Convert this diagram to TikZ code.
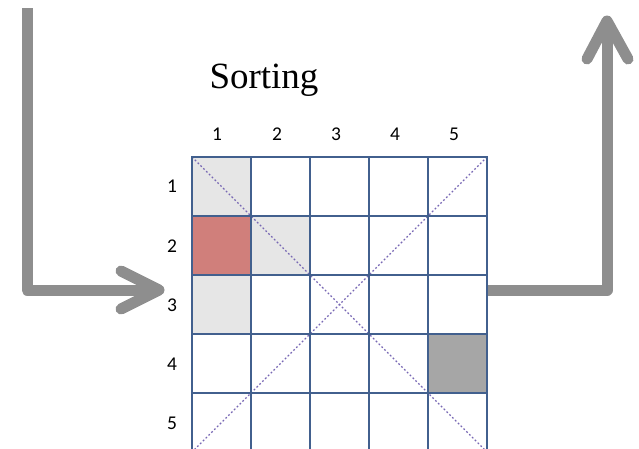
\documentclass[tikz,border=0pt]{standalone}
\usepackage{fontspec}
\setmainfont{Liberation Serif}
\newfontfamily\numfont{Carlito}
\definecolor{gridblue}{RGB}{66,96,142}
\definecolor{diagpurple}{RGB}{120,104,180}
\definecolor{arrowgray}{RGB}{142,142,142}
\definecolor{lightcell}{RGB}{230,230,230}
\definecolor{redcell}{RGB}{208,127,123}
\definecolor{darkcell}{RGB}{166,166,166}
\begin{document}
\begin{tikzpicture}[x=1pt,y=-1pt,
  cell/.style={minimum size=59pt, inner sep=0pt, outer sep=0pt, anchor=north west},
  gridline/.style={draw=gridblue, line width=2.8pt},
  diag/.style={draw=diagpurple, line width=1.2pt, dash pattern=on 1.8pt off 2.2pt},
  arrowline/.style={draw=arrowgray, line width=11pt, line join=round},
  numlab/.style={font=\numfont\fontsize{19.5}{19.5}\selectfont, inner sep=0pt},
  title/.style={font=\fontsize{37}{37}\selectfont, inner sep=0pt, anchor=base}]
\useasboundingbox (0,0) rectangle (639,448);
\clip (0,0) rectangle (639,448);
% cells
\foreach \i in {1,...,5}{
  \foreach \j in {1,...,5}{
    \node[cell] (c-\i-\j) at ({192+59*(\j-1)},{157+59*(\i-1)}) {};
  }
}
\fill[lightcell] (c-1-1.north west) rectangle (c-1-1.south east);
\fill[redcell] (c-2-1.north west) rectangle (c-2-1.south east);
\fill[lightcell] (c-2-2.north west) rectangle (c-2-2.south east);
\fill[lightcell] (c-3-1.north west) rectangle (c-3-1.south east);
\fill[darkcell] (c-4-5.north west) rectangle (c-4-5.south east);
% diagonals
\draw[diag] (c-1-1.north west) -- (c-5-5.south east);
\draw[diag] (c-1-5.north east) -- (c-5-1.south west);
% grid lines
\foreach \i in {1,...,5}{
  \foreach \j in {1,...,5}{
    \draw[gridline] (c-\i-\j.north west) rectangle (c-\i-\j.south east);
  }
}
% labels
\node[title] (ttl) at (264,88) {Sorting};
\node[numlab] (col1) at (217,134) {1};
\node[numlab] (col2) at (277,134) {2};
\node[numlab] (col3) at (336,134) {3};
\node[numlab] (col4) at (395,134) {4};
\node[numlab] (col5) at (454,134) {5};
\node[numlab] (row1) at (172,186) {1};
\node[numlab] (row2) at (172,246) {2};
\node[numlab] (row3) at (172,305) {3};
\node[numlab] (row4) at (172,364) {4};
\node[numlab] (row5) at (172,423) {5};
% left arrow
\coordinate (L0) at (27,8);
\coordinate (L1) at (27,290);
\coordinate (Ltip) at (159,290);
\coordinate (La) at (121,271);
\coordinate (Lb) at (121,309);
\draw[arrowline] (L0) -- (L1) -- (Ltip);
\draw[arrowline, line cap=round] (La) -- (Ltip) -- (Lb);
% right arrow
\coordinate (R0) at (488,290);
\coordinate (R1) at (607,290);
\coordinate (Rtip) at (607,21);
\coordinate (Ra) at (587,59);
\coordinate (Rb) at (628,59);
\draw[arrowline] (R0) -- (R1) -- (Rtip);
\draw[arrowline, line cap=round] (Ra) -- (Rtip) -- (Rb);
\end{tikzpicture}
\end{document}
